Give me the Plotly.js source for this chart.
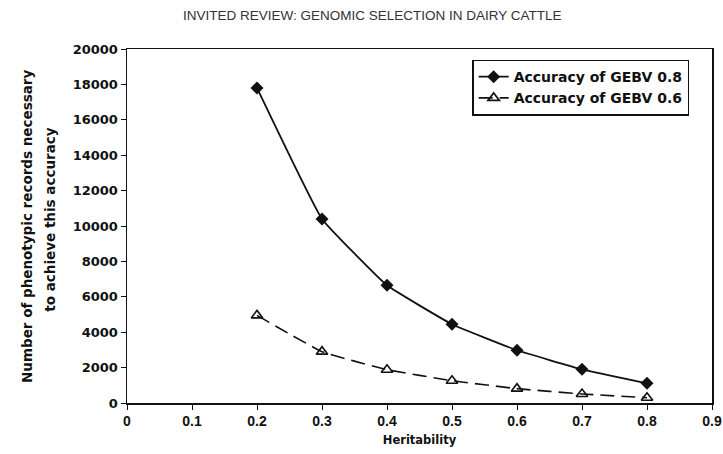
<!DOCTYPE html>
<html>
<head>
<meta charset="utf-8">
<script src="https://cdn.plot.ly/plotly-3.0.1.min.js"></script>
<style>html,body{margin:0;padding:0;background:#fff;}#chart{width:723px;height:454px;}</style>
</head>
<body>
<div id="chart"></div>
<script>
const heritability = [0.2, 0.3, 0.4, 0.5, 0.6, 0.7, 0.8];
const recordsAcc08 = [17800, 10400, 6650, 4450, 2980, 1900, 1110];
const recordsAcc06 = [4950, 2900, 1880, 1260, 810, 510, 300];
const seriesNames = ['Accuracy of GEBV 0.8', 'Accuracy of GEBV 0.6'];
const xTicks = [0, 0.1, 0.2, 0.3, 0.4, 0.5, 0.6, 0.7, 0.8, 0.9];
const xTickText = ['0', '0.1', '0.2', '0.3', '0.4', '0.5', '0.6', '0.7', '0.8', '0.9'];
const yTicks = [0, 2000, 4000, 6000, 8000, 10000, 12000, 14000, 16000, 18000, 20000];
const yTickText = ['0', '2000', '4000', '6000', '8000', '10000', '12000', '14000', '16000', '18000', '20000'];
const yTitleLines = ['Number of phenotypic records necessary', 'to achieve this accuracy'];

const F = 'DejaVu Sans, Verdana, sans-serif';
const FA = 'Liberation Sans, Arial, sans-serif';

const traces = [
  {
    x: heritability, y: recordsAcc08, name: seriesNames[0],
    type: 'scatter', mode: 'lines+markers',
    line: {color: '#111', width: 1.8, shape: 'spline', smoothing: 0.3},
    marker: {symbol: 'diamond', size: 10, color: '#111'}
  },
  {
    x: heritability, y: recordsAcc06, name: seriesNames[1],
    type: 'scatter', mode: 'lines+markers',
    line: {color: '#111', width: 1.6, dash: '14px,7px', shape: 'spline', smoothing: 0.3},
    marker: {symbol: 'triangle-up-open', size: 10, color: '#111', line: {width: 1.6, color: '#111'}}
  }
];

const layout = {
  width: 723, height: 454,
  margin: {l: 127, r: 11, t: 49, b: 51},
  paper_bgcolor: '#fff', plot_bgcolor: '#fff',
  font: {family: F, color: '#111'},
  title: {
    text: 'INVITED REVIEW: GENOMIC SELECTION IN DAIRY CATTLE',
    font: {size: 13.5, color: '#333', family: FA},
    x: 0.515, xanchor: 'center', y: 0.967, yanchor: 'middle'
  },
  xaxis: {
    range: [0, 0.9], tickvals: xTicks, ticktext: xTickText,
    showgrid: false, zeroline: false,
    showline: true, linecolor: '#111', linewidth: 1.5, mirror: true,
    ticks: 'outside', ticklen: 5, tickcolor: '#111',
    tickfont: {size: 14, family: FA, weight: 'bold', color: '#111'},
    title: {text: '<b>Heritability</b>', font: {size: 11.5, family: F}, standoff: 7}
  },
  yaxis: {
    range: [0, 20000], tickvals: yTicks, ticktext: yTickText,
    showgrid: false, zeroline: false,
    showline: true, linecolor: '#111', linewidth: 1.5, mirror: true,
    ticks: 'outside', ticklen: 5, tickcolor: '#111',
    tickfont: {size: 13, family: F, weight: 'bold', color: '#111'}
  },
  annotations: [
    {text: '<b>' + yTitleLines[0] + '</b>', xref: 'paper', yref: 'paper', x: -0.171, y: 0.5,
     xanchor: 'center', yanchor: 'middle', textangle: -90, showarrow: false,
     font: {size: 13.5, family: F, color: '#111'}},
    {text: '<b>' + yTitleLines[1] + '</b>', xref: 'paper', yref: 'paper', x: -0.132, y: 0.52,
     xanchor: 'center', yanchor: 'middle', textangle: -90, showarrow: false,
     font: {size: 13.5, family: F, color: '#111'}}
  ],
  showlegend: true,
  legend: {
    x: 0.59, y: 0.97, xanchor: 'left', yanchor: 'top',
    bgcolor: '#fff', bordercolor: '#111', borderwidth: 1.5,
    font: {size: 14, family: F, weight: 'bold', color: '#111'},
    tracegroupgap: 0, itemwidth: 30
  }
};

Plotly.newPlot('chart', traces, layout, {displayModeBar: false, staticPlot: true});
</script>
</body>
</html>
